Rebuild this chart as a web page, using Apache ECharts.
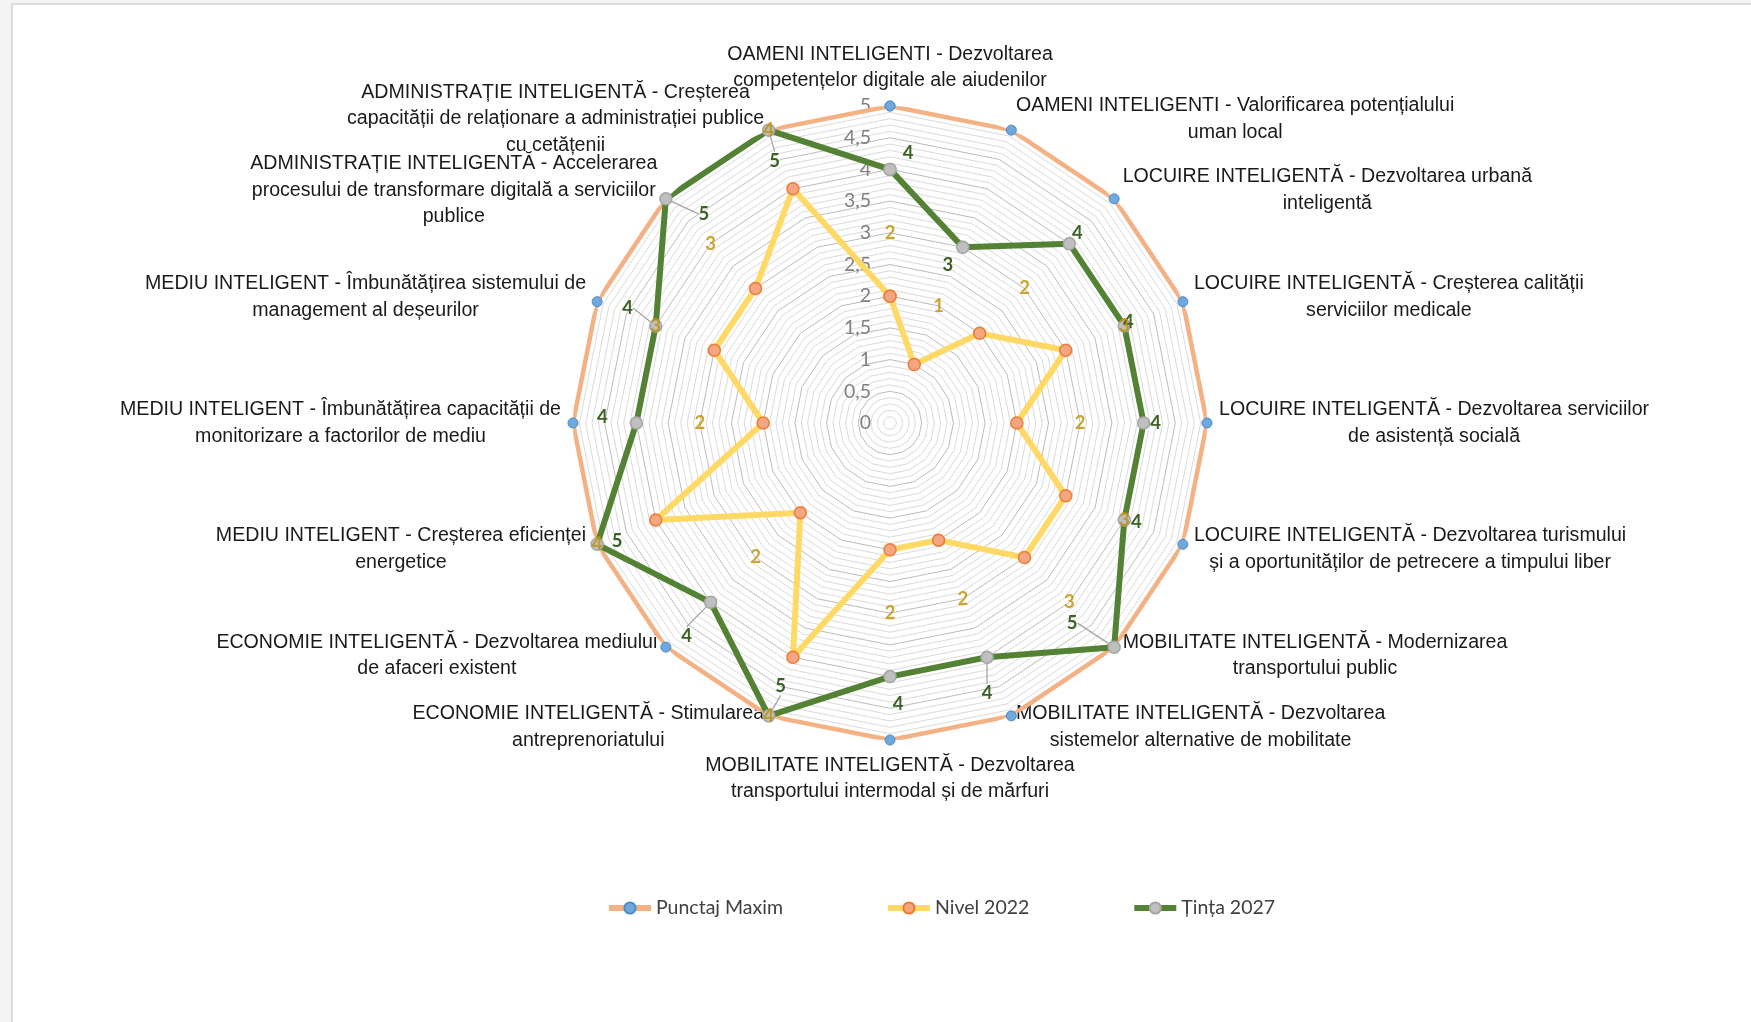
<!DOCTYPE html>
<html>
<head>
<meta charset="utf-8">
<title>Radar Aiud</title>
<script src="https://cdn.jsdelivr.net/npm/echarts@6/dist/echarts.min.js"></script>
<style>
html, body { margin: 0; padding: 0; background: #f4f4f4; }
#main { width: 1751px; height: 1022px; }
</style>
</head>
<body>
<div id="main"></div>
<script>
// axele, in ordinea acelor de ceasornic, incepand de sus
var categorii = [
	'OAMENI INTELIGENTI - Dezvoltarea\ncompetențelor digitale ale aiudenilor',
	'OAMENI INTELIGENTI - Valorificarea potențialului\numan local',
	'LOCUIRE INTELIGENTĂ - Dezvoltarea urbană\ninteligentă',
	'LOCUIRE INTELIGENTĂ - Creșterea calității\nserviciilor medicale',
	'LOCUIRE INTELIGENTĂ - Dezvoltarea serviciilor\nde asistență socială',
	'LOCUIRE INTELIGENTĂ - Dezvoltarea turismului\nși a oportunităților de petrecere a timpului liber',
	'MOBILITATE INTELIGENTĂ - Modernizarea\ntransportului public',
	'MOBILITATE INTELIGENTĂ - Dezvoltarea\nsistemelor alternative de mobilitate',
	'MOBILITATE INTELIGENTĂ - Dezvoltarea\ntransportului intermodal și de mărfuri',
	'ECONOMIE INTELIGENTĂ - Stimularea\nantreprenoriatului',
	'ECONOMIE INTELIGENTĂ - Dezvoltarea mediului\nde afaceri existent',
	'MEDIU INTELIGENT - Creșterea eficienței\nenergetice',
	'MEDIU INTELIGENT - Îmbunătățirea capacității de\nmonitorizare a factorilor de mediu',
	'MEDIU INTELIGENT - Îmbunătățirea sistemului de\nmanagement al deșeurilor',
	'ADMINISTRAȚIE INTELIGENTĂ - Accelerarea\nprocesului de transformare digitală a serviciilor\npublice',
	'ADMINISTRAȚIE INTELIGENTĂ - Creșterea\ncapacității de relaționare a administrației publice\ncu cetățenii'
];

var punctajMaxim = [5, 5, 5, 5, 5, 5, 5, 5, 5, 5, 5, 5, 5, 5, 5, 5];
var nivel2022    = [2, 1, 2, 3, 2, 3, 3, 2, 2, 4, 2, 4, 2, 3, 3, 4];
var tinta2027    = [4, 3, 4, 4, 4, 4, 5, 4, 4, 5, 4, 5, 4, 4, 5, 5];

var serii = ['Punctaj Maxim', 'Nivel 2022', 'Țința 2027'];

// deplasarea etichetelor verzi fata de punct (px) si daca au linie de legatura
var offsetTinta = [
	[18, -16], [-15, 18], [8, -11], [4, -4], [12, 0], [12, 2], [-42, -24], [0, 36],
	[8, 27], [12, -30], [-24, 34], [20, -3], [-34, -6], [-28, -18], [38, 15], [6, 31]
];
var linieTinta = [0, 0, 0, 0, 0, 0, 1, 1, 0, 1, 1, 0, 0, 1, 1, 1];

var n = categorii.length;

// radar merge invers acelor de ceasornic, asa ca inversam ordinea
var indicatori = [];
for (var k = 0; k < n; k++) {
	var idx = (n - k) % n;
	indicatori.push({ name: categorii[idx], min: 0, max: 5 });
}
indicatori[0].axisLabel = {
	show: true,
	color: '#808080',
	fontFamily: 'Lato',
	fontSize: 19.5,
	margin: 19,
	formatter: function (v) {
		var d = v * 2;
		if (Math.abs(d - Math.round(d)) > 1e-6) return '';
		return String(Math.round(d) / 2).replace('.', ',');
	}
};

var inchide = function (arr) {
	var d = arr.map(function (v, i) { return [v, i]; });
	d.push([arr[0], n]);
	return d;
};

var dateTinta = tinta2027.map(function (v, i) {
	return { value: [v, i], labelLine: { show: !!linieTinta[i] } };
});
dateTinta.push({ value: [tinta2027[0], n], label: { show: false }, labelLine: { show: false } });

var numeFont = { fontFamily: 'Liberation Sans', fontSize: 19.6, lineHeight: 26.6, color: '#1a1a1a' };

var chart = echarts.init(document.getElementById('main'));
chart.setOption({
	backgroundColor: '#f4f4f4',
	animation: false,
	graphic: [{
		type: 'rect',
		z: -10,
		silent: true,
		shape: { x: 12, y: 4, width: 1780, height: 1040 },
		style: { fill: '#ffffff', stroke: '#d4d4d4', lineWidth: 1.5 }
	}],
	legend: {
		data: serii,
		left: 601,
		top: 893,
		itemWidth: 42,
		itemHeight: 14,
		itemGap: 102,
		lineStyle: { width: 6 },
		textStyle: { fontFamily: 'Lato', fontSize: 19.5, color: '#404040' }
	},
	radar: {
		center: [890, 423],
		radius: 317,
		startAngle: 90,
		splitNumber: 50,
		shape: 'polygon',
		nameGap: 12,
		axisName: {
			color: '#1a1a1a',
			fontFamily: 'Liberation Sans',
			fontSize: 19.6,
			lineHeight: 26.6,
			formatter: function (name) {
				return name.split('\n').map(function (l) { return '{c|' + l + '}'; }).join('\n');
			},
			rich: { c: echarts.util.extend({ align: 'center' }, numeFont) }
		},
		axisLine: { show: false },
		axisTick: { show: false },
		axisLabel: { show: false },
		splitArea: { show: false },
		splitLine: {
			lineStyle: { color: ['#bcbcbc', '#dbdbdb', '#dbdbdb', '#dbdbdb', '#dbdbdb'], width: 1 }
		},
		indicator: indicatori
	},
	polar: { center: [890, 423], radius: 317 },
	angleAxis: { type: 'value', min: 0, max: n, startAngle: 90, clockwise: true, show: false },
	radiusAxis: { type: 'value', min: 0, max: 5, show: false },
	series: [
		{
			name: serii[0],
			type: 'line',
			coordinateSystem: 'polar',
			clip: false,
			data: inchide(punctajMaxim),
			symbol: 'circle',
			symbolSize: 10,
			showSymbol: true,
			showAllSymbol: true,
			lineStyle: { color: '#F4B183', width: 4.5 },
			itemStyle: { color: '#6FA8DC', borderColor: '#4F8CC9', borderWidth: 1 },
			z: 3
		},
		{
			name: serii[1],
			type: 'line',
			coordinateSystem: 'polar',
			clip: false,
			data: inchide(nivel2022),
			symbol: 'circle',
			symbolSize: 12,
			showSymbol: true,
			showAllSymbol: true,
			lineStyle: { color: '#FFD966', width: 6 },
			itemStyle: { color: '#F4A582', borderColor: '#ED7D31', borderWidth: 1.5 },
			z: 4
		},
		{
			name: serii[2],
			type: 'line',
			coordinateSystem: 'polar',
			clip: false,
			data: dateTinta,
			symbol: 'circle',
			symbolSize: 12,
			showSymbol: true,
			showAllSymbol: true,
			lineStyle: { color: '#548235', width: 6 },
			itemStyle: { color: '#BFBFBF', borderColor: '#A5A5A5', borderWidth: 1.5 },
			label: {
				show: true,
				position: 'inside',
				color: '#3B6326',
				fontFamily: 'Lato',
				fontWeight: 'bold',
				fontSize: 18.5,
				formatter: function (p) { return p.value[0]; }
			},
			labelLine: { show: false, lineStyle: { color: '#A6A6A6', width: 1.3 } },
			labelLayout: function (p) {
				var o = offsetTinta[p.dataIndex] || [0, 0];
				return { dx: o[0], dy: o[1] };
			},
			z: 5
		},
		{
			// etichetele pentru Nivel 2022, asezate cu o unitate mai departe pe axa
			name: 'eticheteNivel',
			type: 'scatter',
			coordinateSystem: 'polar',
			clip: false,
			data: nivel2022.map(function (v, i) { return [v + 1, i, v]; }),
			symbolSize: 0,
			silent: true,
			label: {
				show: true,
				position: 'inside',
				color: '#BF9000',
				fontFamily: 'Lato',
				fontWeight: 'bold',
				fontSize: 18.5,
				formatter: function (p) { return p.value[2]; }
			},
			z: 6
		}
	]
});
</script>
</body>
</html>
